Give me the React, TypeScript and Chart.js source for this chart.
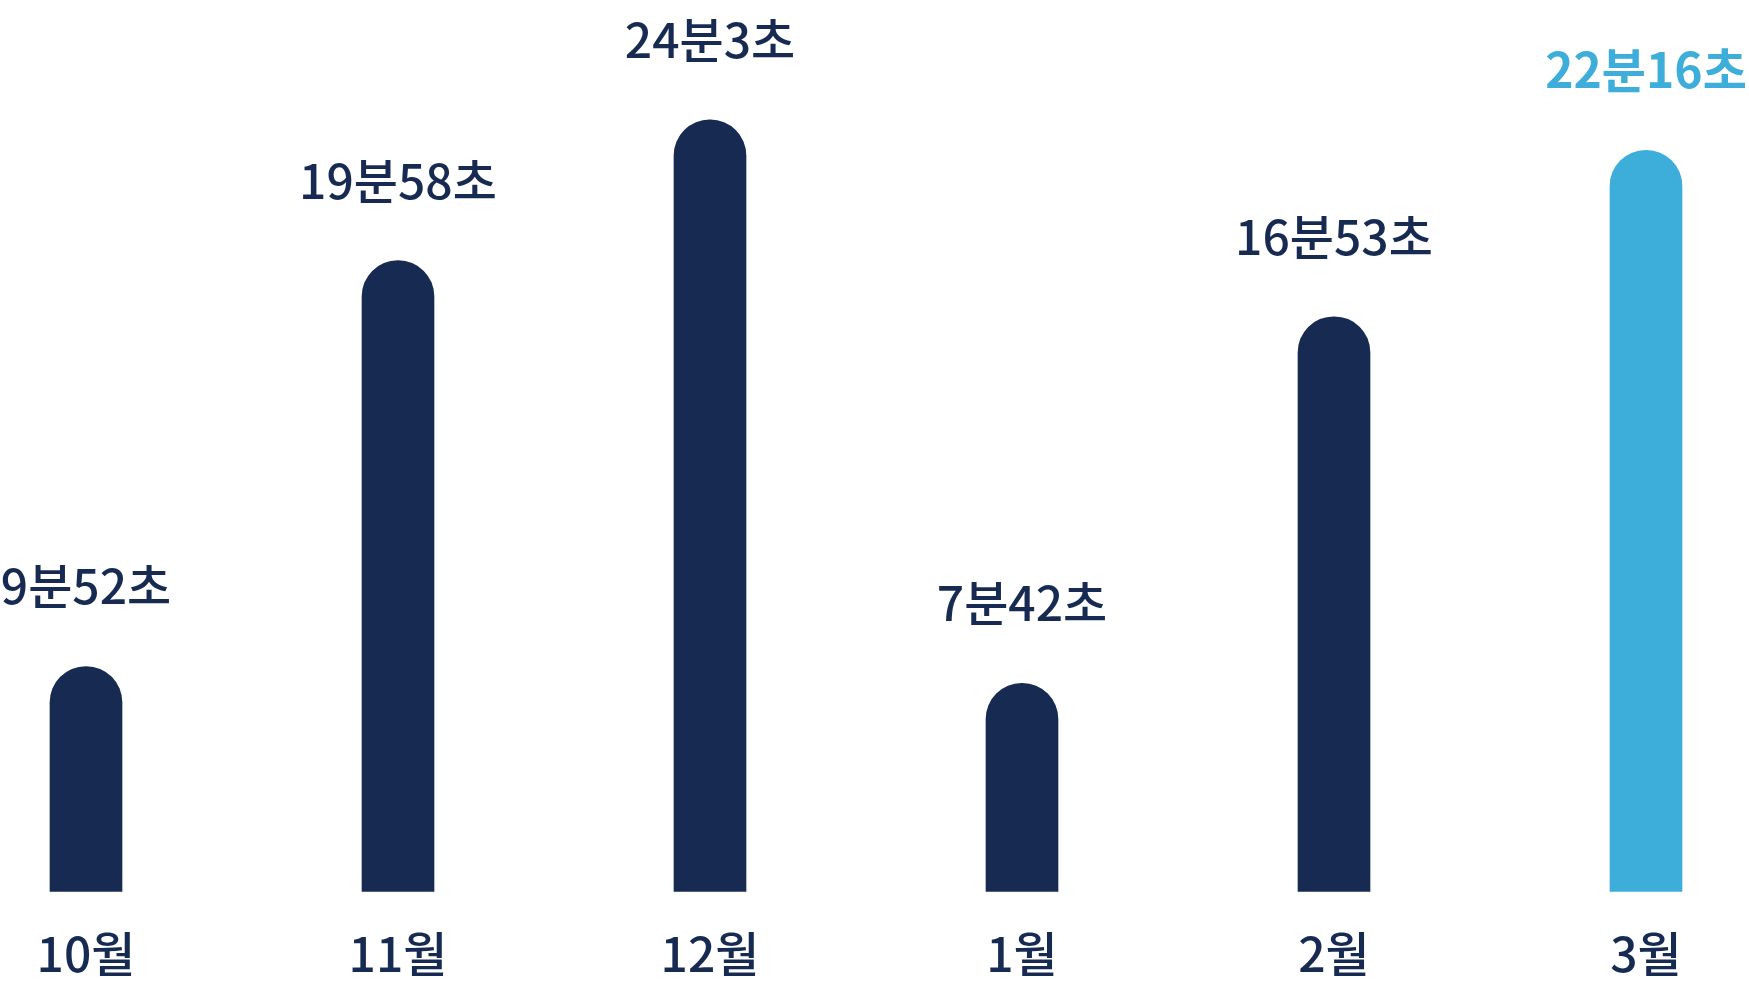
import React, { useEffect, useRef } from "react";
import { Chart, registerables } from "chart.js";

Chart.register(...registerables);

// Categories (months)
const months = ["10월", "11월", "12월", "1월", "2월", "3월"];
// Average duration shown above each bar
const durationLabels = ["9분52초", "19분58초", "24분3초", "7분42초", "16분53초", "22분16초"];
// Bar heights (relative units, 0–100 scale)
const barHeights = [28.1, 78.8, 96.4, 26.0, 71.8, 92.6];
// Highlighted (current) month
const highlightIndex = 5;

const NAVY = "#172B52";
const BLUE = "#3DADDA";
const FONT = '"Noto Sans CJK KR", "Noto Sans", sans-serif';

const valueLabelPlugin = {
  id: "valueLabels",
  afterDatasetsDraw(chart: any) {
    const meta = chart.getDatasetMeta(0);
    const ctx = chart.ctx;
    ctx.save();
    ctx.textAlign = "center";
    ctx.textBaseline = "alphabetic";
    meta.data.forEach((bar: any, i: number) => {
      const hi = i === highlightIndex;
      ctx.font = `${hi ? 700 : 500} 48px ${FONT}`;
      ctx.fillStyle = hi ? BLUE : NAVY;
      ctx.fillText(durationLabels[i], bar.x, bar.y - 62);
    });
    ctx.restore();
  },
};

export default function App() {
  const canvasRef = useRef<HTMLCanvasElement | null>(null);

  useEffect(() => {
    if (!canvasRef.current) return;
    const chart = new Chart(canvasRef.current, {
      type: "bar",
      data: {
        labels: months,
        datasets: [
          {
            data: barHeights,
            backgroundColor: months.map((_, i) => (i === highlightIndex ? BLUE : NAVY)),
            borderWidth: 0,
            barThickness: 72,
            borderRadius: { topLeft: 36, topRight: 36, bottomLeft: 0, bottomRight: 0 },
            borderSkipped: false,
            clip: false as any,
          },
        ],
      },
      options: {
        animation: false,
        responsive: true,
        maintainAspectRatio: false,
        layout: { padding: { left: 86, right: 103, top: 91, bottom: 0 } },
        plugins: {
          legend: { display: false },
          tooltip: { enabled: false },
        },
        scales: {
          x: {
            offset: false,
            grid: { display: false, drawTicks: false },
            border: { display: false },
            ticks: {
              color: NAVY,
              padding: 34,
              font: { family: FONT, size: 48, weight: 500 as any },
              maxRotation: 0,
              autoSkip: false,
            },
          },
          y: {
            display: false,
            min: 0,
            max: 100,
          },
        },
      },
      plugins: [valueLabelPlugin],
    });
    return () => chart.destroy();
  }, []);

  return (
    <div
      style={{
        position: "absolute",
        left: 0,
        top: 0,
        width: 1749,
        height: 987,
        overflow: "hidden",
        background: "#ffffff",
      }}
    >
      <div style={{ position: "relative", width: 1749, height: 1017 }}>
        <canvas ref={canvasRef} />
      </div>
    </div>
  );
}
